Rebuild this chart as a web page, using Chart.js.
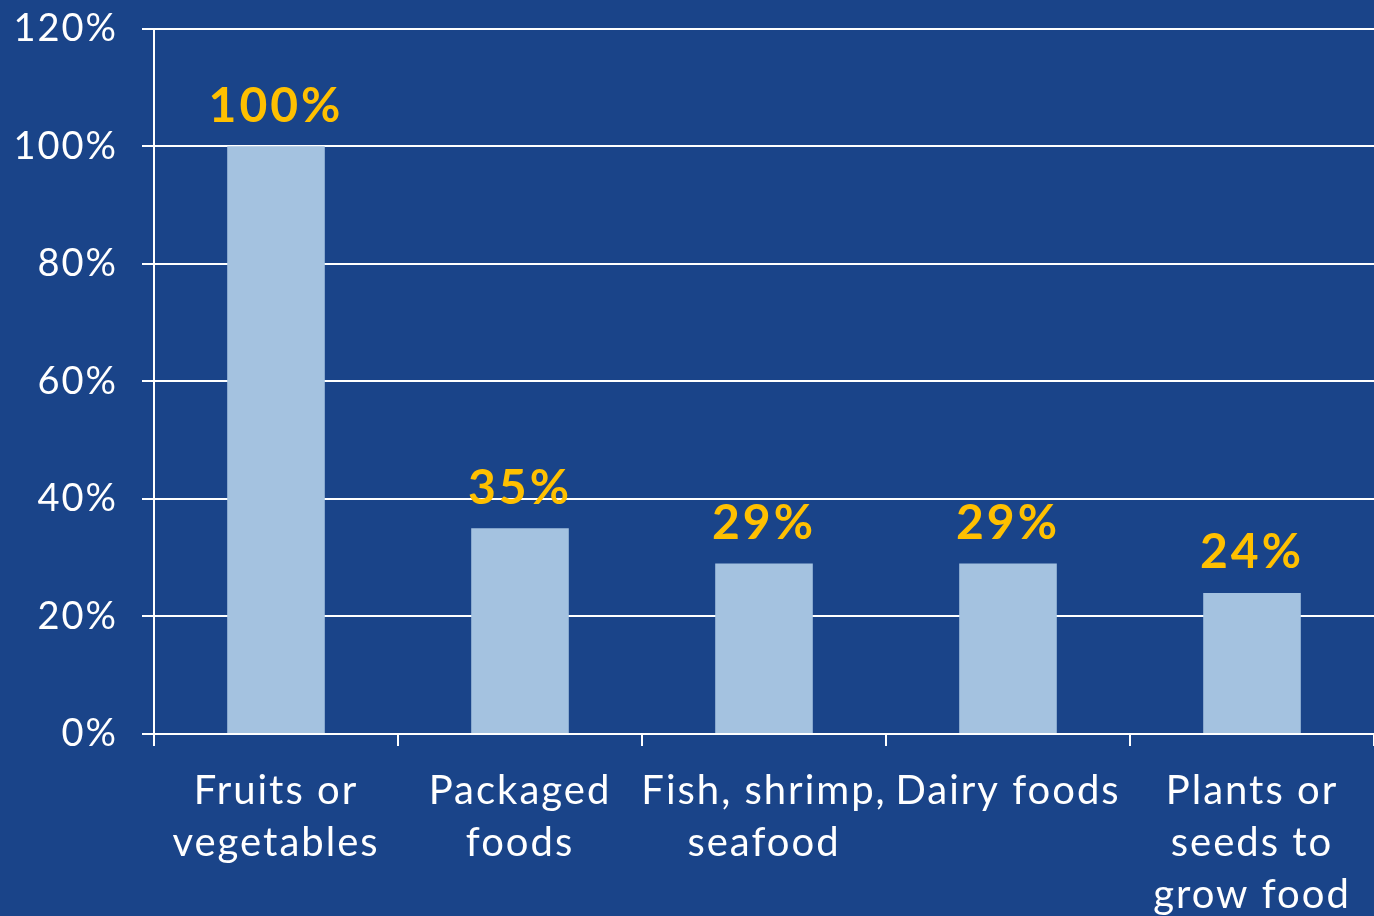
<!DOCTYPE html>
<html>
<head>
<meta charset="utf-8">
<script src="https://cdn.jsdelivr.net/npm/chart.js@4"></script>
<style>
  html, body { margin: 0; padding: 0; background: #1a4489; }
  #wrap { width: 1374px; height: 916px; }
</style>
</head>
<body>
<div id="wrap"><canvas id="grafica"></canvas></div>
<script>
// datos del grafico
const categorias = [
    ['Fruits or', 'vegetables'],
    ['Packaged', 'foods'],
    ['Fish, shrimp,', 'seafood'],
    ['Dairy foods'],
    ['Plants or', 'seeds to', 'grow food']
];
const valores = [100, 35, 29, 29, 24];
const etiquetasY = ['0%', '20%', '40%', '60%', '80%', '100%', '120%'];

const FUENTE = 'Lato, "DejaVu Sans", sans-serif';

// espaciado de letras un poco mas abierto, como en el original
const espaciado = {
    id: 'espaciado',
    beforeDraw(chart) {
        chart.ctx.letterSpacing = '2px';
    }
};

// plugin para las etiquetas amarillas encima de cada barra
const etiquetasBarras = {
    id: 'etiquetasBarras',
    afterDatasetsDraw(chart) {
        const ctx = chart.ctx;
        const meta = chart.getDatasetMeta(0);
        ctx.save();
        ctx.letterSpacing = '3px';
        ctx.fillStyle = '#ffc000';
        ctx.font = 'bold 48px ' + FUENTE;
        ctx.textAlign = 'center';
        ctx.textBaseline = 'middle';
        meta.data.forEach((bar, i) => {
            ctx.fillText(valores[i] + '%', bar.x, bar.y - 40);
        });
        ctx.restore();
    }
};

new Chart(document.getElementById('grafica'), {
    type: 'bar',
    data: {
        labels: categorias,
        datasets: [{
            data: valores,
            backgroundColor: '#a4c2e0',
            borderWidth: 0,
            barPercentage: 0.4,
            categoryPercentage: 1.0
        }]
    },
    options: {
        responsive: true,
        maintainAspectRatio: false,
        animation: false,
        layout: { padding: { top: 28, right: 0, left: 0, bottom: 0 } },
        plugins: {
            legend: { display: false },
            tooltip: { enabled: false }
        },
        scales: {
            y: {
                min: 0,
                max: 120,
                ticks: {
                    stepSize: 20,
                    color: '#ffffff',
                    font: { family: FUENTE, size: 38, lineHeight: 0.25 },
                    padding: 24,
                    callback: (v, i) => etiquetasY[i]
                },
                grid: {
                    color: '#ffffff',
                    lineWidth: 2,
                    tickLength: 12
                },
                border: { color: '#ffffff', width: 2 },
                afterFit(scale) { scale.width = 154; }
            },
            x: {
                ticks: {
                    color: '#ffffff',
                    font: { family: FUENTE, size: 40, lineHeight: 1.3 },
                    padding: 19,
                    maxRotation: 0,
                    autoSkip: false
                },
                grid: {
                    color: '#ffffff',
                    lineWidth: 2,
                    drawOnChartArea: false,
                    tickLength: 12
                },
                border: { color: '#ffffff', width: 2 },
                afterFit(scale) { scale.height = 182; }
            }
        }
    },
    plugins: [espaciado, etiquetasBarras]
});
</script>
</body>
</html>
